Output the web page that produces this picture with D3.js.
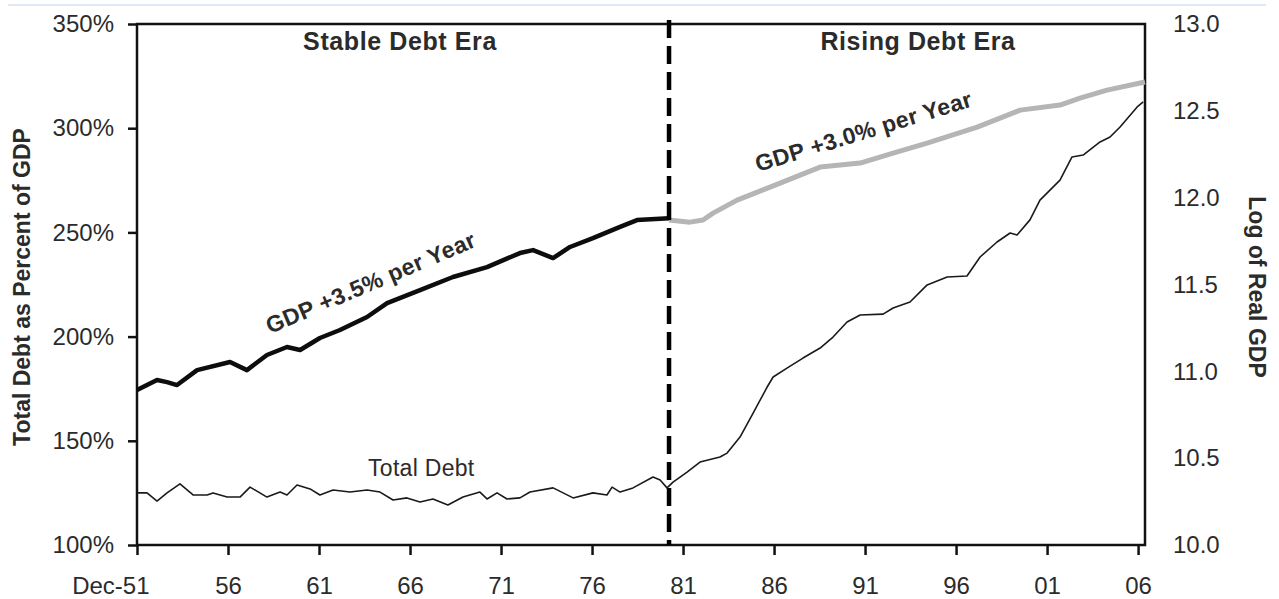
<!DOCTYPE html>
<html>
<head>
<meta charset="utf-8">
<script src="https://cdn.jsdelivr.net/npm/d3@7"></script>
<style>
body { margin: 0; background: #fff; }
svg text { font-family: "Liberation Sans", Arial, sans-serif; fill: #2b2b2b; }
</style>
</head>
<body>
<div id="chart"></div>
<script>
// =====================================================
// Total debt vs log of real GDP, 1951 - 2007
// values are read off the original picture
// =====================================================

var debtYears = [
	1951.92, 1952.47, 1953.02, 1953.57, 1954.28, 1955.0, 1955.77, 1956.1, 1956.87, 1957.58,
	1958.13, 1959.06, 1959.78, 1960.16, 1960.71, 1961.43, 1961.97, 1962.69, 1963.62, 1964.56,
	1965.27, 1965.99, 1966.75, 1967.47, 1968.18, 1969.0, 1969.83, 1970.76, 1971.15, 1971.7,
	1972.25, 1972.96, 1973.51, 1974.78, 1975.88, 1976.97, 1977.74, 1978.02, 1978.46, 1979.17,
	1980.27, 1980.66, 1981.04, 1981.37, 1982.14, 1982.85, 1983.95, 1984.34, 1985.05, 1985.77,
	1986.54, 1986.87, 1987.63, 1988.51, 1989.45, 1990.16, 1990.93, 1991.65, 1992.91, 1993.46,
	1994.39, 1995.33, 1996.43, 1997.52, 1998.24, 1999.17, 1999.89, 2000.27, 2000.98, 2001.53,
	2002.63, 2003.29, 2003.9, 2004.83, 2005.38, 2005.93, 2006.87, 2007.2];
var debtPct = [
	125.0, 125.0, 121.1, 125.0, 129.3, 124.0, 124.0, 125.0, 123.0, 123.0,
	127.8, 123.0, 125.4, 124.0, 128.8, 126.9, 124.0, 126.4, 125.4, 126.4,
	125.4, 121.6, 122.6, 120.6, 122.1, 119.2, 123.0, 125.4, 122.1, 125.0,
	122.1, 122.6, 125.4, 127.4, 122.6, 125.0, 124.0, 127.8, 125.4, 127.4,
	132.6, 131.2, 127.4, 130.2, 135.0, 139.8, 142.2, 144.1, 151.8, 163.3,
	175.8, 180.6, 184.9, 189.7, 194.5, 199.8, 207.0, 210.4, 210.8, 213.7,
	216.6, 224.8, 228.6, 229.1, 238.2, 245.4, 249.7, 248.8, 256.0, 265.5,
	275.1, 286.2, 287.1, 293.4, 295.8, 300.6, 310.2, 312.6];

// log of real GDP, stable debt era (black) and rising debt era (grey)
var gdpStableYears = [
	1951.92, 1953.02, 1953.57, 1954.12, 1955.22, 1957.03, 1957.96, 1959.06, 1960.16, 1960.88,
	1961.97, 1963.07, 1964.56, 1965.66, 1967.47, 1969.28, 1971.15, 1972.96, 1973.68, 1974.78,
	1975.71, 1976.97, 1978.46, 1979.39, 1981.15];
var gdpStableLog = [
	10.892, 10.950, 10.938, 10.921, 11.007, 11.054, 11.007, 11.094, 11.140, 11.123,
	11.192, 11.238, 11.313, 11.393, 11.468, 11.543, 11.600, 11.681, 11.698, 11.652,
	11.716, 11.767, 11.832, 11.871, 11.882];
var gdpRisingYears = [
	1981.15, 1982.3, 1983.02, 1983.57, 1984.89, 1986.7, 1989.45, 1991.65, 1993.46, 1995.33,
	1998.08, 2000.44, 2002.63, 2003.73, 2005.21, 2007.3];
var gdpRisingLog = [
	11.871, 11.859, 11.871, 11.911, 11.986, 12.061, 12.176, 12.199, 12.257, 12.314,
	12.406, 12.504, 12.533, 12.573, 12.619, 12.666];

var xTickYears = [1951.92, 1956.92, 1961.92, 1966.92, 1971.92, 1976.92, 1981.92, 1986.92, 1991.92, 1996.92, 2001.92, 2006.92];
var xTickLabels = ["51", "56", "61", "66", "71", "76", "81", "86", "91", "96", "01", "06"];
var leftTicks = [100, 150, 200, 250, 300, 350];
var rightTicks = [10.0, 10.5, 11.0, 11.5, 12.0, 12.5, 13.0];
var eraBreak = 1981.15;

var W = 1279, H = 599;
// plot frame edges (window.top is read-only, so own names)
var pLeft = 137, pRight = 1145, pTop = 24, pBottom = 545;

var svg = d3.select("#chart").append("svg")
	.attr("width", W)
	.attr("height", H);

var x = d3.scaleLinear().domain([1951.92, 2007.3]).range([pLeft, pRight]);
var yL = d3.scaleLinear().domain([100, 350]).range([pBottom, pTop]);
var yR = d3.scaleLinear().domain([10, 13]).range([pBottom, pTop]);

// thin blue rule at the very top of the picture
svg.append("line")
	.attr("x1", 8).attr("x2", 1266)
	.attr("y1", 5).attr("y2", 5)
	.attr("stroke", "#dfe9f6")
	.attr("stroke-width", 2);

// left axis
var axL = svg.append("g")
	.attr("transform", "translate(" + pLeft + ",0)")
	.call(d3.axisLeft(yL).tickValues(leftTicks).tickSize(9).tickPadding(14)
		.tickFormat(function(d) {return d + "%"}));

// right axis, no tick marks
var axR = svg.append("g")
	.attr("transform", "translate(" + pRight + ",0)")
	.call(d3.axisRight(yR).tickValues(rightTicks).tickSize(0).tickPadding(28)
		.tickFormat(d3.format(".1f")));

// bottom axis
var axB = svg.append("g")
	.attr("transform", "translate(0," + pBottom + ")")
	.call(d3.axisBottom(x).tickValues(xTickYears).tickSize(10).tickPadding(22)
		.tickFormat(function(d, i) {return xTickLabels[i]}));

[axL, axR, axB].forEach(function(g) {
	g.select(".domain").remove();
	g.selectAll(".tick line").attr("stroke", "#111").attr("stroke-width", 2.5);
	g.selectAll(".tick text").attr("font-size", 24).attr("fill", "#2b2b2b");
});

// "Dec-" sits in front of the first year label
axB.select(".tick text").text("Dec-51").attr("text-anchor", "end").attr("dx", 12);

// frame
svg.append("rect")
	.attr("x", pLeft).attr("y", pTop)
	.attr("width", pRight - pLeft).attr("height", pBottom - pTop)
	.attr("fill", "none")
	.attr("stroke", "#111")
	.attr("stroke-width", 2.5);

// series
var debtLine = d3.line()
	.x(function(d, i) {return x(debtYears[i])})
	.y(function(d) {return yL(d)});

svg.append("path")
	.datum(debtPct)
	.attr("d", debtLine)
	.attr("fill", "none")
	.attr("stroke", "#1a1a1a")
	.attr("stroke-width", 1.6)
	.attr("stroke-linejoin", "round");

function gdpPath(years, vals, colour, width) {
	var line = d3.line()
		.x(function(d, i) {return x(years[i])})
		.y(function(d) {return yR(d)});
	svg.append("path")
		.datum(vals)
		.attr("d", line)
		.attr("fill", "none")
		.attr("stroke", colour)
		.attr("stroke-width", width)
		.attr("stroke-linejoin", "round");
}
gdpPath(gdpRisingYears, gdpRisingLog, "#b5b5b5", 5);
gdpPath(gdpStableYears, gdpStableLog, "#0d0d0d", 4.5);

// era divider
svg.append("line")
	.attr("x1", x(eraBreak)).attr("x2", x(eraBreak))
	.attr("y1", pTop - 4).attr("y2", pBottom)
	.attr("stroke", "#000")
	.attr("stroke-width", 4.5)
	.attr("stroke-dasharray", "18,8");

// text annotations
svg.append("text")
	.attr("x", 400).attr("y", 50)
	.attr("text-anchor", "middle")
	.attr("font-size", 25).attr("font-weight", "bold")
	.attr("letter-spacing", 0.6)
	.text("Stable Debt Era");

svg.append("text")
	.attr("x", 918).attr("y", 50)
	.attr("text-anchor", "middle")
	.attr("font-size", 25).attr("font-weight", "bold")
	.attr("letter-spacing", 0.6)
	.text("Rising Debt Era");

svg.append("text")
	.attr("transform", "translate(270,334) rotate(-23)")
	.attr("font-size", 23).attr("font-weight", "bold")
	.attr("letter-spacing", 0.4)
	.text("GDP +3.5% per Year");

svg.append("text")
	.attr("transform", "translate(758,172) rotate(-17)")
	.attr("font-size", 23).attr("font-weight", "bold")
	.attr("letter-spacing", 0.4)
	.text("GDP +3.0% per Year");

svg.append("text")
	.attr("x", 368).attr("y", 476)
	.attr("font-size", 23)
	.attr("letter-spacing", 0.3)
	.text("Total Debt");

// axis titles
svg.append("text")
	.attr("transform", "translate(30,287) rotate(-90)")
	.attr("text-anchor", "middle")
	.attr("font-size", 23).attr("font-weight", "bold")
	.text("Total Debt as Percent of GDP");

svg.append("text")
	.attr("transform", "translate(1249,287) rotate(90)")
	.attr("text-anchor", "middle")
	.attr("font-size", 23).attr("font-weight", "bold")
	.text("Log of Real GDP");
</script>
</body>
</html>
